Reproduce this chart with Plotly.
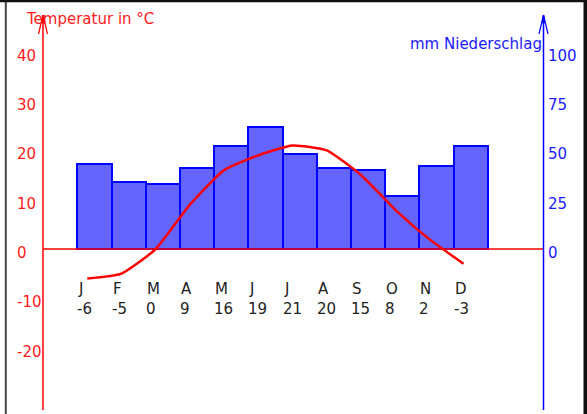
import plotly.graph_objects as go

# Klimadiagramm: monthly precipitation (bars) and mean temperature (line)
months = ["J", "F", "M", "A", "M", "J", "J", "A", "S", "O", "N", "D"]
temperature = [-6, -5, 0, 9, 16, 19, 21, 20, 15, 8, 2, -3]
precipitation = [43, 34, 33, 41, 52, 62, 48, 41, 40, 27, 42, 52]
temp_ticks = [40, 30, 20, 10, 0, -10, -20]
precip_ticks = [100, 75, 50, 25, 0]

W, H = 587, 414
# canvas geometry in pixels
BAR_LEFT0 = 77.3      # left edge of the first bar
BAR_W = 34.2          # width of one month column
ZERO_Y = 249.0        # pixel row of 0 °C / 0 mm
PX_PER_DEG = 4.93     # vertical pixels per °C
MM_PER_DEG = 2.5      # 10 °C corresponds to 25 mm
AX_L, AX_R = 43.0, 543.5
AX_TOP, AX_BOT = 15.0, 410.0

RED = "#ff1a1a"
BLUE = "#1a1aff"
FONT = "DejaVu Sans"


def pxx(x):
    return x / W


def pxy(y):
    return 1 - y / H


x_lo = -(BAR_LEFT0 + BAR_W / 2) / BAR_W
x_range = [x_lo, x_lo + W / BAR_W]
t_range = [-(H - ZERO_Y) / PX_PER_DEG, ZERO_Y / PX_PER_DEG]
p_range = [t_range[0] * MM_PER_DEG, t_range[1] * MM_PER_DEG]

idx = list(range(len(months)))
# the temperature curve is drawn a little left of the column centres
line_x = [i - 0.5 + 10 / BAR_W for i in idx]

fig = go.Figure()
# precipitation on the primary axis, temperature on the overlaying one so the line sits on top
fig.add_trace(go.Bar(
    x=idx, y=precipitation, yaxis="y", width=1.0,
    marker=dict(color="#6464ff", line=dict(color="#0000ff", width=2)),
    showlegend=False, hoverinfo="skip",
))
fig.add_trace(go.Scatter(
    x=line_x, y=temperature, mode="lines", yaxis="y2",
    line=dict(color="#ff0000", width=2.5, shape="spline", smoothing=0.5),
    showlegend=False, hoverinfo="skip",
))

shapes = []
# frame
shapes.append(dict(type="line", xref="paper", yref="paper", x0=pxx(5.8), x1=pxx(5.8), y0=0, y1=1,
                   line=dict(color="#444444", width=2)))
shapes.append(dict(type="line", xref="paper", yref="paper", x0=0, x1=1, y0=pxy(1), y1=pxy(1),
                   line=dict(color="#111111", width=2.5)))
shapes.append(dict(type="line", xref="paper", yref="paper", x0=pxx(585.5), x1=pxx(585.5), y0=0, y1=1,
                   line=dict(color="#111111", width=4)))
# zero line
shapes.append(dict(type="line", xref="paper", yref="y2", x0=pxx(AX_L), x1=pxx(AX_R), y0=0, y1=0,
                   line=dict(color="#ff0000", width=1.5), layer="above"))
# vertical axes with open arrowheads
for ax_x, col in [(AX_L, "#ff0000"), (AX_R, "#0000ff")]:
    shapes.append(dict(type="line", xref="paper", yref="paper", x0=pxx(ax_x), x1=pxx(ax_x),
                       y0=pxy(AX_BOT), y1=pxy(AX_TOP), line=dict(color=col, width=1.5)))
    for dx in (-4.5, 4.5):
        shapes.append(dict(type="line", xref="paper", yref="paper", x0=pxx(ax_x), x1=pxx(ax_x + dx),
                           y0=pxy(AX_TOP), y1=pxy(AX_TOP + 19), line=dict(color=col, width=1.2)))
    shapes.append(dict(type="path", xref="paper", yref="paper",
                       path=f"M {pxx(ax_x)} {pxy(AX_TOP)} L {pxx(ax_x - 1.8)} {pxy(AX_TOP + 8)} "
                            f"L {pxx(ax_x + 1.8)} {pxy(AX_TOP + 8)} Z",
                       fillcolor=col, line=dict(color=col, width=0.5)))

ann = []
fs = 15
for v in temp_ticks:
    ann.append(dict(x=pxx(15), xref="paper", y=v, yref="y2", text=str(v), showarrow=False,
                    xanchor="left", yanchor="middle", yshift=-4,
                    font=dict(family=FONT, size=fs, color=RED)))
for v in precip_ticks:
    ann.append(dict(x=pxx(546), xref="paper", y=v, yref="y", text=str(v), showarrow=False,
                    xanchor="left", yanchor="middle", yshift=-4,
                    font=dict(family=FONT, size=fs, color=BLUE)))
ann.append(dict(x=pxx(24), xref="paper", y=pxy(19), yref="paper", text="Temperatur in °C",
                showarrow=False, xanchor="left", yanchor="middle",
                font=dict(family=FONT, size=fs, color=RED)))
ann.append(dict(x=pxx(544), xref="paper", y=pxy(44), yref="paper", text="mm Niederschlag",
                showarrow=False, xanchor="right", yanchor="middle",
                font=dict(family=FONT, size=fs, color=BLUE)))
for i, (m, t) in enumerate(zip(months, temperature)):
    ann.append(dict(x=i - 0.5, xref="x", y=pxy(289), yref="paper", text=m, showarrow=False,
                    xanchor="left", yanchor="middle", xshift=-1,
                    font=dict(family=FONT, size=fs, color="#222222")))
    ann.append(dict(x=i - 0.5, xref="x", y=pxy(309), yref="paper", text=str(t), showarrow=False,
                    xanchor="left", yanchor="middle", xshift=-2,
                    font=dict(family=FONT, size=fs, color="#222222")))

fig.update_layout(
    width=W, height=H,
    margin=dict(l=0, r=0, t=0, b=0, pad=0),
    paper_bgcolor="white", plot_bgcolor="white",
    bargap=0,
    xaxis=dict(range=x_range, visible=False, domain=[0, 1], fixedrange=True),
    yaxis=dict(range=p_range, visible=False, domain=[0, 1], fixedrange=True),
    yaxis2=dict(range=t_range, visible=False, overlaying="y", side="right", fixedrange=True),
    shapes=shapes,
    annotations=ann,
)

fig.write_html("out.html", config={"displayModeBar": False})
